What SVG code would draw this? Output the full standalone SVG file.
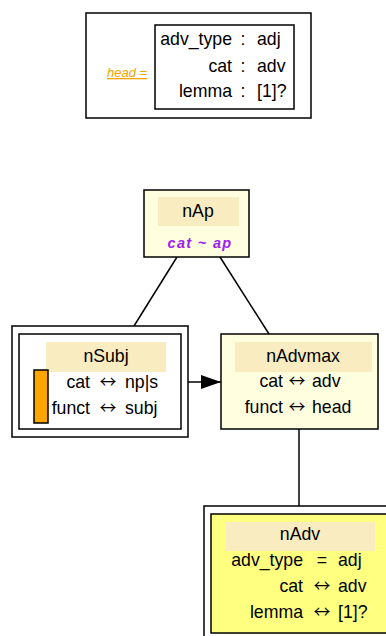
<svg xmlns="http://www.w3.org/2000/svg" width="386" height="636" viewBox="0 0 386 636">
<style>
text{font-family:"Liberation Sans",Arial,sans-serif;font-size:17.7px;fill:#000}
.box{fill:#fff;stroke:#000;stroke-width:1.5}
.ly{fill:#ffffe0;stroke:#000;stroke-width:1.5}
.yl{fill:#ffff80;stroke:#000;stroke-width:1.5}
.hd{fill:#f8ecc0;stroke:none}
.r{text-anchor:end}
.m{text-anchor:middle}
.ar{text-anchor:middle;font-family:"Noto Sans CJK SC",sans-serif;font-size:17px}
.edge{stroke:#000;stroke-width:1.5;fill:none}
</style>
<defs>
<marker id="ah" markerWidth="20" markerHeight="14" refX="20" refY="7" orient="auto" markerUnits="userSpaceOnUse">
<path d="M0,0 L20,7 L0,14 Z" fill="#000"/>
</marker>
</defs>
<g id="connectors">
<line class="edge" x1="177" y1="257" x2="134" y2="326"/>
<line class="edge" x1="220" y1="257" x2="269" y2="334"/>
<line class="edge" x1="188" y1="382" x2="221" y2="382" marker-end="url(#ah)"/>
<line class="edge" x1="299" y1="429" x2="299" y2="506"/>
</g>
<g id="head">
<rect class="box" x="86" y="13" width="225" height="105"/>
<text x="127" y="77" class="m" style="font-size:13px;font-style:italic;fill:#f5a300;text-decoration:underline">head =</text>
<rect class="box" x="155" y="25" width="139" height="84"/>
<text x="232" y="45" class="r">adv_type</text><text x="243" y="45" class="m">:</text><text x="257" y="45">adj</text>
<text x="232" y="72" class="r">cat</text><text x="243" y="72" class="m">:</text><text x="257" y="72">adv</text>
<text x="232" y="97" class="r">lemma</text><text x="243" y="97" class="m">:</text><text x="257" y="97">[1]?</text>
</g>
<g id="nAp">
<rect class="ly" x="144" y="190" width="105" height="67"/>
<rect class="hd" x="158" y="197" width="81" height="29"/>
<text x="198" y="217" class="m">nAp</text>
<text x="200" y="248" class="m" style="font-size:14.5px;font-weight:bold;font-style:italic;fill:#a020f0;letter-spacing:1.3px">cat ~ ap</text>
</g>
<g id="nSubj">
<rect class="box" x="12" y="326" width="176" height="111"/>
<rect class="box" x="19" y="334" width="162" height="95"/>
<rect class="hd" x="46" y="342" width="120" height="30"/>
<text x="106" y="362" class="m">nSubj</text>
<rect x="34" y="370" width="14" height="53" fill="#ffa500" stroke="#000" stroke-width="1.5"/>
<text x="90" y="388" class="r">cat</text><text x="108" y="388" class="ar">↔</text><text x="125" y="388">np|s</text>
<text x="90" y="414" class="r">funct</text><text x="108" y="414" class="ar">↔</text><text x="125" y="414">subj</text>
</g>
<g id="nAdvmax">
<rect class="ly" x="221" y="334" width="157" height="95"/>
<rect class="hd" x="235" y="342" width="137" height="30"/>
<text x="303" y="362" class="m">nAdvmax</text>
<text x="283" y="387" class="r">cat</text><text x="297" y="387" class="ar">↔</text><text x="312" y="387">adv</text>
<text x="283" y="413" class="r">funct</text><text x="297" y="413" class="ar">↔</text><text x="312" y="413">head</text>
</g>
<g id="nAdv">
<rect class="box" x="204" y="506" width="194" height="136"/>
<rect class="yl" x="211" y="514" width="180" height="119"/>
<rect class="hd" x="226" y="522" width="149" height="29"/>
<text x="300" y="540" class="m">nAdv</text>
<text x="303" y="566" class="r">adv_type</text><text x="322" y="566" class="m">=</text><text x="338" y="566">adj</text>
<text x="303" y="592" class="r">cat</text><text x="322" y="592" class="ar">↔</text><text x="338" y="592">adv</text>
<text x="303" y="618" class="r">lemma</text><text x="322" y="618" class="ar">↔</text><text x="338" y="618">[1]?</text>
</g>
</svg>
